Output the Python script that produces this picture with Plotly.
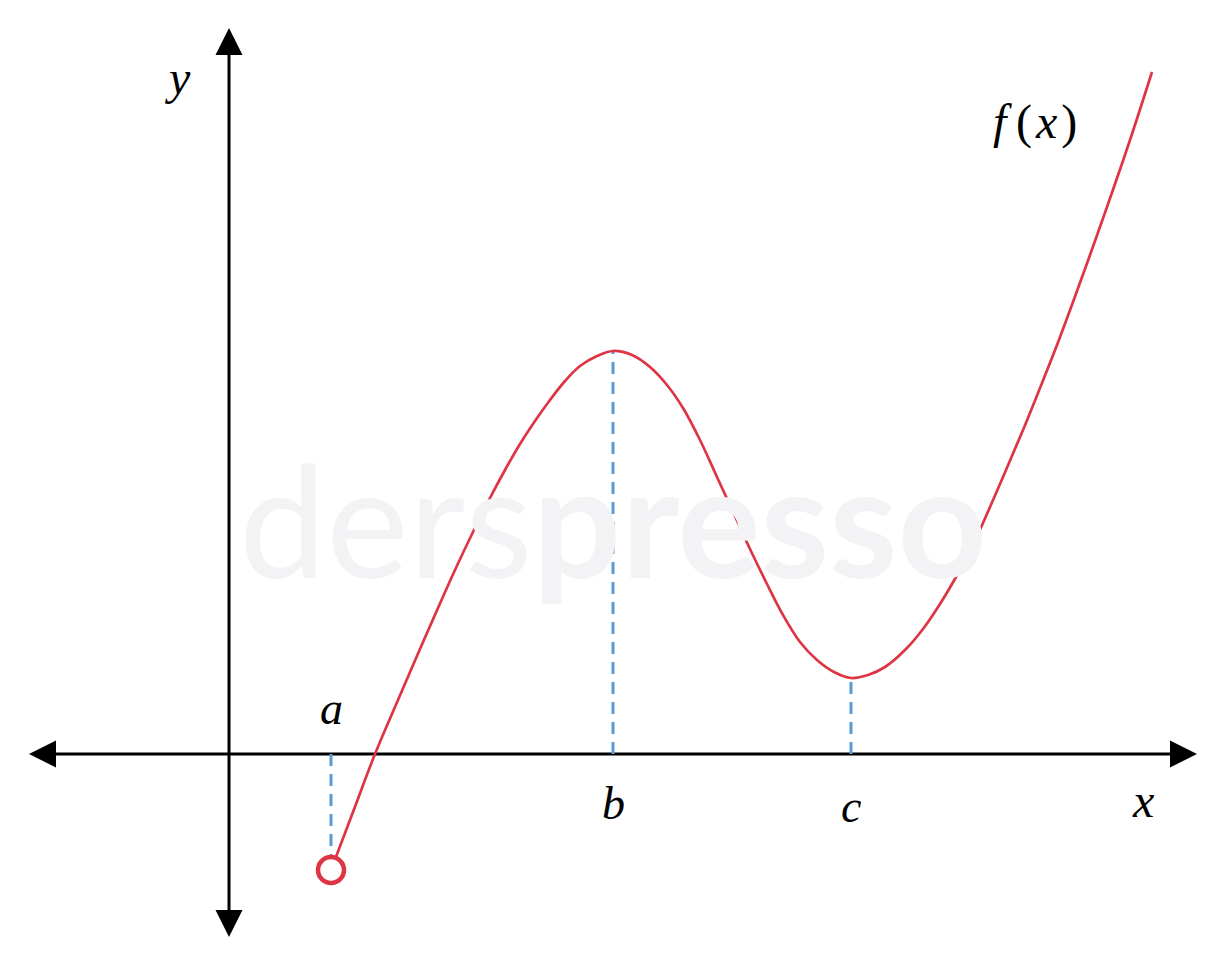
import plotly.graph_objects as go

# ---- data (math units; 1 unit ~ 100 px) ----
curve_x = [1.02, 1.24, 1.46, 1.69, 1.91, 2.09, 2.26, 2.44, 2.61, 2.76, 2.91, 3.06,
           3.21, 3.36, 3.51, 3.68, 3.84,
           4.03, 4.21, 4.38, 4.54, 4.71, 4.88, 5.05, 5.21, 5.38, 5.54, 5.71, 5.88,
           6.05, 6.22,
           6.39, 6.56, 6.77, 6.94, 7.11, 7.27, 7.44, 7.61, 7.77, 7.94, 8.11, 8.28,
           8.44, 8.61, 8.78, 9.01, 9.23]
curve_y = [-1.16, -0.58, 0.00, 0.54, 1.05, 1.46, 1.84, 2.22, 2.56, 2.84, 3.10, 3.33,
           3.54, 3.73, 3.88, 3.98, 4.03,
           3.99, 3.87, 3.69, 3.46, 3.14, 2.77, 2.40, 2.05, 1.70, 1.39, 1.12, 0.94,
           0.82, 0.76,
           0.79, 0.87, 1.05, 1.25, 1.50, 1.77, 2.09, 2.47, 2.84, 3.24, 3.66, 4.09,
           4.52, 4.99, 5.47, 6.14, 6.82]

point_labels = ["a", "b", "c"]
axis_labels = ["x", "y"]

# axis extents (arrow tips)
X_MIN, X_MAX = -2.00, 9.68
Y_MIN, Y_MAX = -1.83, 7.26

# view window
VIEW_X = [-2.29, 9.97]
VIEW_Y = [-2.12, 7.54]

RED = "#de3545"
BLUE = "#5b9bd5"
BLACK = "#000000"

# special points
a_x, a_y = curve_x[0], curve_y[0]
i_b = curve_y.index(max(curve_y[:30]))
b_x, b_y = curve_x[i_b], curve_y[i_b]
i_c = i_b + curve_y[i_b:].index(min(curve_y[i_b:]))
c_x, c_y = curve_x[i_c], curve_y[i_c]

fig = go.Figure()

# dashed guide lines
for gx, gy in [(a_x, a_y + 0.13), (b_x, b_y), (c_x, c_y)]:
    fig.add_trace(go.Scatter(x=[gx, gx], y=[0, gy], mode="lines",
                             line=dict(color=BLUE, width=3, dash="12px,8px"),
                             hoverinfo="skip"))

# curve
fig.add_trace(go.Scatter(x=curve_x, y=curve_y, mode="lines",
                         line=dict(color=RED, width=2.7, shape="spline", smoothing=1.0),
                         hoverinfo="skip"))

# open circle at a
fig.add_trace(go.Scatter(x=[a_x], y=[a_y], mode="markers",
                         marker=dict(size=26, color="white", line=dict(color=RED, width=4.5)),
                         hoverinfo="skip"))

shapes = []
# axes
shapes.append(dict(type="line", x0=X_MIN + 0.1, x1=X_MAX - 0.1, y0=0, y1=0,
                   line=dict(color=BLACK, width=3), layer="below"))
shapes.append(dict(type="line", x0=0, x1=0, y0=Y_MIN + 0.1, y1=Y_MAX - 0.1,
                   line=dict(color=BLACK, width=3), layer="below"))
AL, AH = 0.27, 0.135
def tri(p):
    return dict(type="path", path="M" + " L".join(f"{x},{y}" for x, y in p) + " Z",
                fillcolor=BLACK, line=dict(color=BLACK, width=0))
shapes.append(tri([(X_MAX, 0), (X_MAX - AL, AH), (X_MAX - AL, -AH)]))
shapes.append(tri([(X_MIN, 0), (X_MIN + AL, AH), (X_MIN + AL, -AH)]))
shapes.append(tri([(0, Y_MAX), (AH, Y_MAX - AL), (-AH, Y_MAX - AL)]))
shapes.append(tri([(0, Y_MIN), (AH, Y_MIN + AL), (-AH, Y_MIN + AL)]))

SERIF = "Liberation Serif"
def lab(text, x, y, size=46):
    return dict(x=x, y=y, xref="x", yref="y", text=text, showarrow=False,
                font=dict(family=SERIF, size=size, color=BLACK),
                xanchor="center", yanchor="middle")

annotations = [
    # watermark
    dict(x=3.84, y=2.37, xref="x", yref="y",
         text="ders<b>presso</b>", showarrow=False,
         font=dict(family="Lato", size=156, color="#f3f3f6"),
         xanchor="center", yanchor="middle"),
    lab("<i>" + point_labels[0] + "</i>", a_x, 0.46),
    lab("<i>" + point_labels[1] + "</i>", b_x, -0.49),
    lab("<i>" + point_labels[2] + "</i>", c_x, -0.52),
    lab("<i>" + axis_labels[0] + "</i>", 9.14, -0.46, 48),
    lab("<i>" + axis_labels[1] + "</i>", -0.52, 6.77, 48),
    lab("<i>f</i>\u2009(\u200a<i>x</i>\u200a)", 8.06, 6.32, 48),
]

fig.update_layout(
    width=1226, height=966,
    margin=dict(l=0, r=0, t=0, b=0),
    paper_bgcolor="white", plot_bgcolor="white",
    showlegend=False,
    xaxis=dict(range=VIEW_X, visible=False, showgrid=False, zeroline=False, fixedrange=True),
    yaxis=dict(range=VIEW_Y, visible=False, showgrid=False, zeroline=False, fixedrange=True),
    shapes=shapes,
    annotations=annotations,
)

fig.write_html("out.html", config={"displayModeBar": False},
               post_script="document.body.style.margin='0';document.body.style.overflow='hidden';")
